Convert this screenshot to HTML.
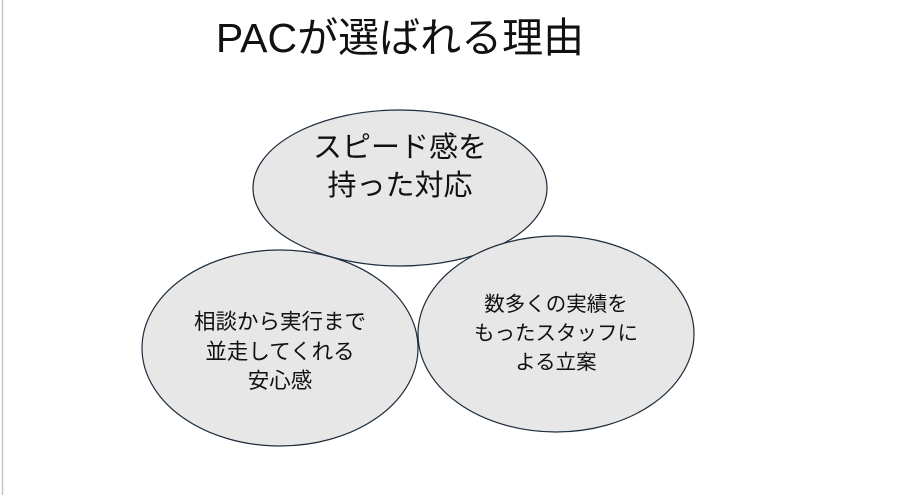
<!DOCTYPE html>
<html><head><meta charset="utf-8"><style>
html,body{margin:0;padding:0;background:#fff;}
body{width:907px;height:497px;overflow:hidden;position:relative;}
svg{position:absolute;left:0;top:0;}
text{font-family:"Liberation Sans","Noto Sans CJK JP",sans-serif;fill:#111;}
</style></head><body>
<svg width="907" height="497" viewBox="0 0 907 497">
<rect x="0" y="0" width="907" height="497" fill="#fff"/>
<line x1="2.5" y1="0" x2="2.5" y2="495" stroke="#c8c8c8" stroke-width="1.5"/>
<text x="400" y="52" font-size="41" text-anchor="middle">PACが選ばれる理由</text>
<ellipse cx="400" cy="188" rx="147" ry="78" fill="#e7e7e7" stroke="#1e2d3c" stroke-width="1.2"/>
<ellipse cx="280" cy="348" rx="138" ry="98" fill="#e7e7e7" stroke="#1e2d3c" stroke-width="1.2"/>
<ellipse cx="556" cy="334" rx="138" ry="98" fill="#e7e7e7" stroke="#1e2d3c" stroke-width="1.2"/>
<text x="400" y="157" font-size="29" text-anchor="middle">スピード感を</text>
<text x="400" y="195" font-size="29" text-anchor="middle">持った対応</text>
<text x="280" y="329" font-size="21.5" text-anchor="middle">相談から実行まで</text>
<text x="280" y="359" font-size="21.5" text-anchor="middle">並走してくれる</text>
<text x="280" y="388" font-size="21.5" text-anchor="middle">安心感</text>
<text x="556" y="311" font-size="20.5" text-anchor="middle">数多くの実績を</text>
<text x="556" y="340" font-size="20.5" text-anchor="middle">もったスタッフに</text>
<text x="556" y="369" font-size="20.5" text-anchor="middle">よる立案</text>
</svg>
</body></html>
